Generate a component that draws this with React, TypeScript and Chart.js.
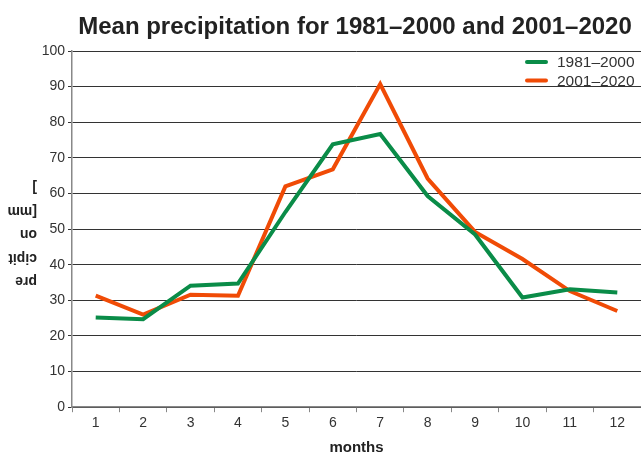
import React, { useEffect, useRef } from "react";
import { Chart, registerables } from "chart.js";

Chart.register(...registerables);

const months = ["1", "2", "3", "4", "5", "6", "7", "8", "9", "10", "11", "12"];
const period1Label = "1981–2000";
const period2Label = "2001–2020";
const period1Values = [25.2, 24.7, 34.1, 34.7, 54.8, 73.8, 76.7, 59.3, 48.5, 30.8, 33.1, 32.2];
const period2Values = [31.3, 26.0, 31.6, 31.3, 62.0, 66.8, 90.7, 64.2, 49.2, 41.6, 32.6, 27.0];
const titleText = "Mean precipitation for 1981–2000 and 2001–2020";
const xTitle = "months";
const yTitleLines = ["pre", "cipit", "on", "[mm", "]"];

const GREEN = "#0a8c48";
const ORANGE = "#f04b06";
const FONT = "'Liberation Sans', Arial, sans-serif";

const decorPlugin = {
  id: "decor",
  afterDraw(chart: any) {
    const ctx = chart.ctx;
    ctx.save();
    // title
    ctx.fillStyle = "#222";
    ctx.font = `bold 24px ${FONT}`;
    ctx.textAlign = "center";
    ctx.textBaseline = "middle";
    ctx.fillText(titleText, 355, 27);

    // legend inside chart area (top right)
    const items = [
      { label: period1Label, color: GREEN },
      { label: period2Label, color: ORANGE },
    ];
    ctx.font = `15.5px ${FONT}`;
    ctx.textAlign = "left";
    items.forEach((it, i) => {
      const y = 62 + i * 18.5;
      ctx.strokeStyle = it.color;
      ctx.lineWidth = 4;
      ctx.lineCap = "round";
      ctx.beginPath();
      ctx.moveTo(527, y);
      ctx.lineTo(546, y);
      ctx.stroke();
      ctx.fillStyle = "#333";
      ctx.fillText(it.label, 557, y + 1);
    });

    // y axis title (rotated, wrapped)
    ctx.fillStyle = "#222";
    ctx.font = `bold 14px ${FONT}`;
    ctx.textBaseline = "middle";
    ctx.textAlign = "left";
    yTitleLines.forEach((line, i) => {
      ctx.save();
      ctx.translate(37, 281 - i * 23.5);
      ctx.rotate(Math.PI);
      ctx.fillText(line, 0, 0);
      ctx.restore();
    });
    ctx.restore();
  },
};

export default function App() {
  const ref = useRef<HTMLCanvasElement | null>(null);
  useEffect(() => {
    document.body.style.margin = "0";
    const chart = new Chart(ref.current as HTMLCanvasElement, {
      type: "line",
      data: {
        labels: months,
        datasets: [
          {
            label: period1Label,
            data: period1Values,
            borderColor: GREEN,
            backgroundColor: GREEN,
            borderWidth: 4,
            pointRadius: 0,
            tension: 0,
          },
          {
            label: period2Label,
            data: period2Values,
            borderColor: ORANGE,
            backgroundColor: ORANGE,
            borderWidth: 4,
            pointRadius: 0,
            tension: 0,
          },
        ],
      },
      options: {
        animation: false,
        responsive: false,
        layout: { padding: { top: 51, left: 0, right: -2, bottom: -2 } },
        plugins: {
          legend: { display: false },
          title: { display: false },
          tooltip: { enabled: false },
        },
        scales: {
          x: {
            offset: true,
            grid: {
              offset: true,
              drawOnChartArea: false,
              drawTicks: true,
              tickLength: 5,
              color: "#888",
            },
            border: { color: "#888", width: 1.5 },
            ticks: {
              color: "#333",
              font: { family: FONT, size: 14 },
              padding: 3,
              maxRotation: 0,
            },
            title: {
              display: true,
              text: xTitle,
              color: "#222",
              font: { family: FONT, size: 15, weight: "bold" },
              padding: { top: 4, bottom: 0 },
            },
          },
          y: {
            min: 0,
            max: 100,
            afterFit: (s: any) => {
              s.width = 72;
            },
            ticks: {
              stepSize: 10,
              color: "#333",
              font: { family: FONT, size: 14 },
              padding: 3,
            },
            grid: {
              color: "#333",
              lineWidth: 1,
              tickLength: 4,
              drawTicks: true,
            },
            border: { color: "#888", width: 1.5 },
          },
        },
      },
      plugins: [decorPlugin],
    });
    return () => chart.destroy();
  }, []);
  return (
    <div style={{ position: "fixed", left: 0, top: 0, width: 641, height: 455 }}>
      <canvas ref={ref} width={641} height={455} style={{ display: "block" }} />
    </div>
  );
}
